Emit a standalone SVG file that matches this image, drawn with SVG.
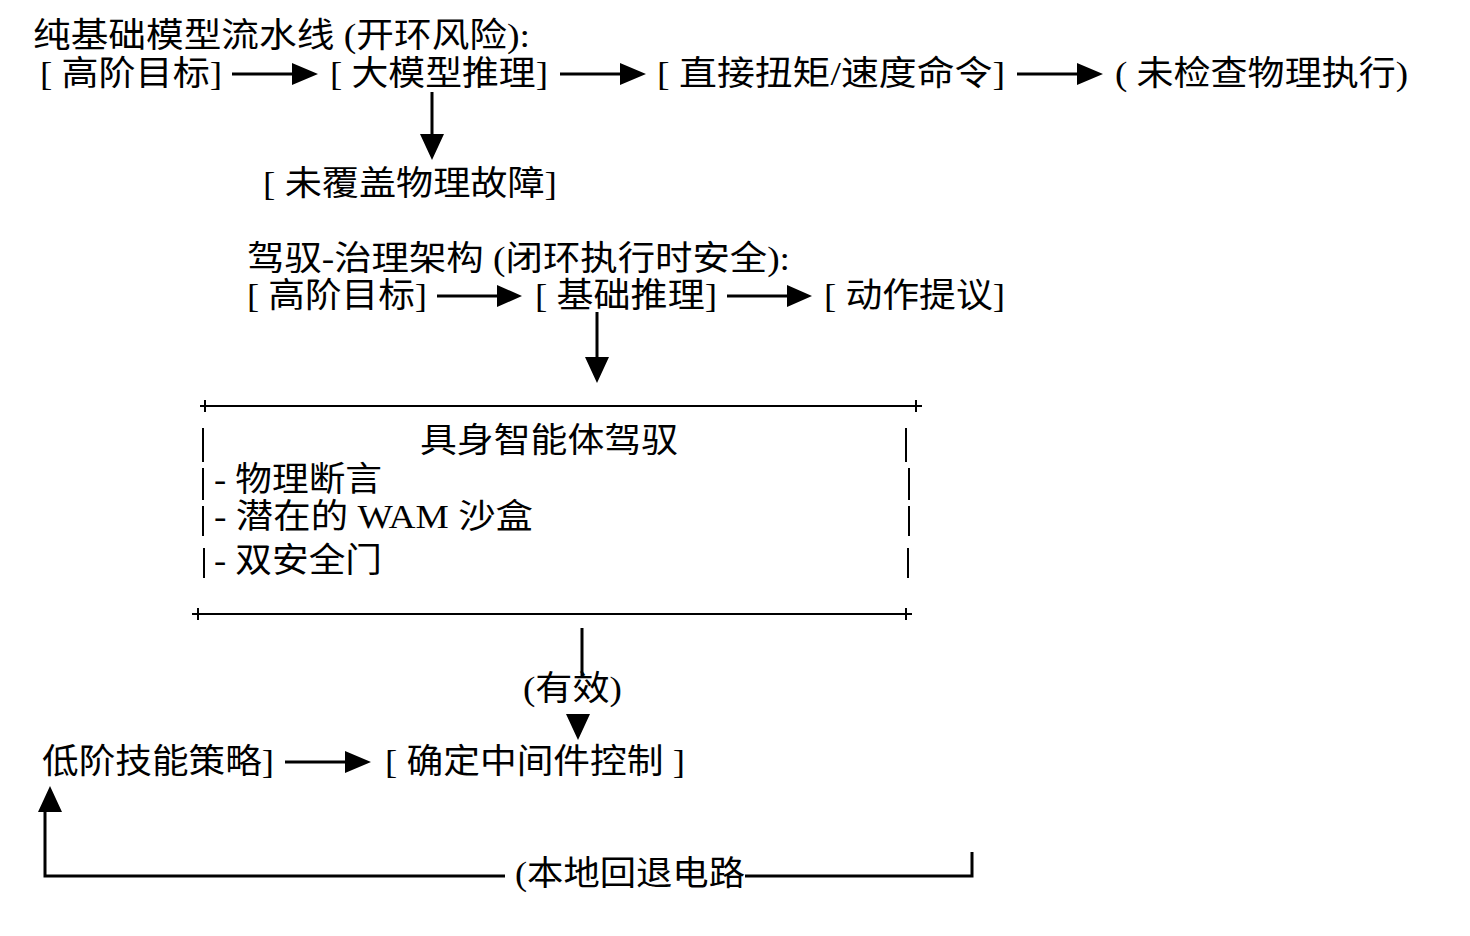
<svg xmlns="http://www.w3.org/2000/svg" width="1470" height="936" viewBox="0 0 1470 936">
<defs>
<style>
text{font-family:"Liberation Serif","Noto Sans CJK SC",serif;font-size:34px;fill:#000}
.l{stroke:#000;stroke-width:3;fill:none}
.t{stroke:#000;stroke-width:2;fill:none}
</style>
</defs>
<rect width="1470" height="936" fill="#fff"/>
<g id="open-loop">
<text x="33" y="47" textLength="497" lengthAdjust="spacingAndGlyphs">纯基础模型流水线 (开环风险):</text>
<text x="40" y="85" textLength="182" lengthAdjust="spacingAndGlyphs">[ 高阶目标]</text>
<text x="330" y="85" textLength="218" lengthAdjust="spacingAndGlyphs">[ 大模型推理]</text>
<text x="657" y="85" textLength="348" lengthAdjust="spacingAndGlyphs">[ 直接扭矩/速度命令]</text>
<text x="1115" y="85" textLength="293" lengthAdjust="spacingAndGlyphs">( 未检查物理执行)</text>
<text x="263" y="195" textLength="294" lengthAdjust="spacingAndGlyphs">[ 未覆盖物理故障]</text>
</g>
<g id="closed-loop">
<text x="247" y="270" textLength="543" lengthAdjust="spacingAndGlyphs">驾驭-治理架构 (闭环执行时安全):</text>
<text x="247" y="307" textLength="180" lengthAdjust="spacingAndGlyphs">[ 高阶目标]</text>
<text x="535" y="307" textLength="182" lengthAdjust="spacingAndGlyphs">[ 基础推理]</text>
<text x="824" y="307" textLength="181" lengthAdjust="spacingAndGlyphs">[ 动作提议]</text>
</g>
<g id="harness">
<path class="t" d="M200,406H922M205,400V412M916,400V412M192,614H912M198,608V620M906,608V620"/>
<path class="t" d="M203,428V462M906,428V462M203,468V500M909,468V500M203,506V536M909,506V536M204,548V578M908,548V578"/>
<text x="420" y="452" textLength="258" lengthAdjust="spacingAndGlyphs">具身智能体驾驭</text>
<text x="214" y="491" textLength="168" lengthAdjust="spacingAndGlyphs">- 物理断言</text>
<text x="214" y="528" textLength="319" lengthAdjust="spacingAndGlyphs">- 潜在的 WAM 沙盒</text>
<text x="214" y="572" textLength="168" lengthAdjust="spacingAndGlyphs">- 双安全门</text>
</g>
<g id="bottom">
<text x="523" y="700" textLength="99" lengthAdjust="spacingAndGlyphs">(有效)</text>
<text x="42" y="773" textLength="232" lengthAdjust="spacingAndGlyphs">低阶技能策略]</text>
<text x="385" y="773" textLength="300" lengthAdjust="spacingAndGlyphs">[ 确定中间件控制 ]</text>
<text x="515" y="885" textLength="230" lengthAdjust="spacingAndGlyphs">(本地回退电路</text>
</g>
<g id="connectors">
<path class="l" d="M232,74H292M560,74H620M1017,74H1077M437,296H497M727,296H787M285,762H345"/>
<path d="M292,63L318,74L292,85zM620,63L646,74L620,85zM1077,63L1103,74L1077,85zM497,285L522,296L497,307zM787,285L812,296L787,307zM345,751L371,762L345,773z"/>
<path class="l" d="M432,92V135M597,312V358M582,628V678M45,810V876H505M745,876H972V852"/>
<path d="M420,134L432,160L444,134zM585,357L597,383L609,357zM566,714L578,740L590,714zM38,812L50,786L62,812z"/>
</g>
</svg>
